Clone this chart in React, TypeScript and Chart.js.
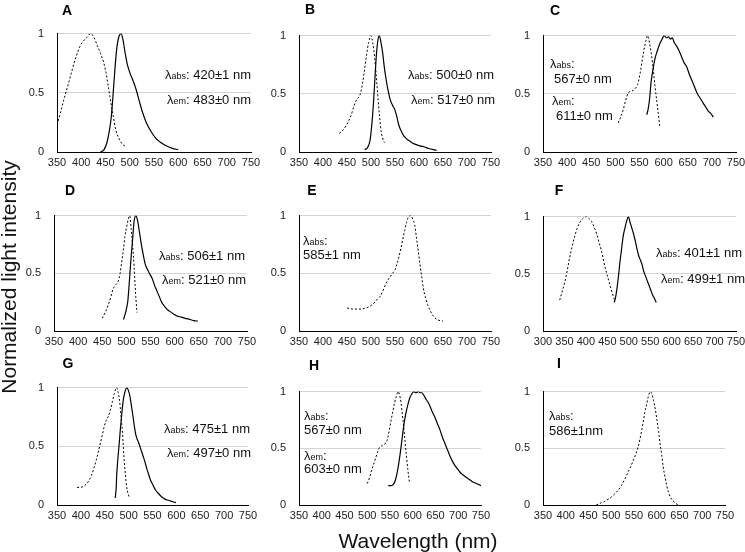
import React, { useEffect, useRef } from "react";
import { Chart, registerables } from "chart.js";

Chart.register(...registerables);

type P = [number, number][];

// ---- Data (wavelength nm, normalized intensity) ----
const absA: P = [[350,0.23],[357,0.33],[364,0.44],[373,0.57],[381,0.69],[389,0.8],[397,0.89],[405,0.94],[412,0.97],[419,1],[426,0.97],[433,0.9],[440,0.83],[446,0.76],[451,0.67],[456,0.55],[461,0.42],[466,0.3],[471,0.19],[478,0.11],[484,0.07],[490,0.05]];
const emA: P = [[440,0],[447,0.02],[453,0.08],[458,0.18],[462,0.3],[465,0.45],[468,0.62],[471,0.78],[474,0.9],[478,0.98],[482,1],[486,0.95],[490,0.85],[495,0.74],[501,0.66],[507,0.6],[513,0.53],[519,0.44],[526,0.34],[534,0.25],[543,0.18],[553,0.12],[564,0.08],[576,0.05],[588,0.03],[600,0.02]];

const absB: P = [[434,0.16],[442,0.19],[450,0.24],[458,0.31],[465,0.4],[470,0.45],[477,0.49],[482,0.58],[487,0.72],[491,0.84],[495,0.94],[500,1],[504,0.93],[508,0.8],[512,0.6],[515,0.44],[518,0.3],[521,0.18],[525,0.11],[528,0.08]];
const emB: P = [[487,0.02],[493,0.04],[498,0.1],[502,0.25],[505,0.41],[508,0.62],[511,0.82],[514,0.95],[517,1],[520,0.96],[524,0.86],[528,0.72],[532,0.61],[536,0.52],[540,0.45],[545,0.4],[550,0.36],[554,0.3],[558,0.23],[563,0.18],[568,0.14],[575,0.11],[582,0.09],[590,0.07],[600,0.055],[610,0.045],[620,0.03],[630,0.02],[637,0.015]];

const absC: P = [[506,0.25],[511,0.3],[516,0.36],[521,0.44],[527,0.51],[532,0.52],[537,0.53],[542,0.55],[546,0.58],[551,0.67],[555,0.77],[559,0.87],[563,0.95],[567,1],[571,0.93],[575,0.83],[579,0.69],[582,0.57],[586,0.43],[589,0.33],[592,0.22]];
const emC: P = [[565,0.32],[568,0.37],[571,0.46],[574,0.6],[578,0.71],[582,0.8],[587,0.87],[592,0.93],[597,0.97],[601,1],[606,0.98],[610,0.99],[614,0.97],[618,0.98],[622,0.94],[627,0.91],[632,0.87],[637,0.82],[642,0.77],[648,0.73],[653,0.67],[658,0.62],[664,0.56],[670,0.5],[676,0.46],[682,0.42],[688,0.38],[693,0.35],[698,0.33],[703,0.3]];

const absD: P = [[450,0.11],[456,0.16],[462,0.22],[468,0.3],[473,0.37],[478,0.4],[483,0.43],[487,0.5],[490,0.59],[494,0.71],[497,0.82],[501,0.91],[504,0.97],[507,1],[510,0.88],[513,0.74],[516,0.56],[518,0.4],[520,0.27],[522,0.16]];
const emD: P = [[494,0.1],[497,0.14],[500,0.19],[503,0.26],[505,0.36],[507,0.48],[510,0.65],[513,0.8],[516,0.95],[520,1],[523,0.96],[527,0.86],[531,0.75],[535,0.66],[539,0.58],[544,0.53],[549,0.49],[554,0.45],[558,0.4],[563,0.35],[568,0.3],[573,0.25],[578,0.22],[584,0.19],[590,0.17],[597,0.15],[605,0.13],[614,0.12],[622,0.11],[632,0.1],[640,0.09],[648,0.085]];

const absE: P = [[450,0.2],[463,0.19],[477,0.19],[490,0.2],[500,0.22],[508,0.25],[514,0.28],[519,0.3],[524,0.34],[529,0.39],[535,0.44],[540,0.47],[545,0.5],[550,0.53],[554,0.58],[558,0.64],[562,0.71],[566,0.79],[570,0.87],[574,0.94],[578,0.99],[583,1],[587,0.97],[591,0.92],[595,0.8],[599,0.68],[602,0.58],[606,0.46],[609,0.37],[613,0.3],[618,0.23],[624,0.17],[630,0.13],[637,0.1],[644,0.09],[650,0.085]];

const absF: P = [[339,0.27],[345,0.35],[351,0.43],[357,0.54],[362,0.64],[368,0.74],[374,0.83],[380,0.9],[386,0.95],[392,0.98],[401,1],[408,0.98],[413,0.96],[419,0.91],[425,0.85],[431,0.77],[437,0.69],[442,0.6],[448,0.51],[454,0.43],[460,0.35],[465,0.29],[469,0.26]];
const emF: P = [[466,0.25],[469,0.29],[472,0.36],[476,0.48],[479,0.59],[483,0.71],[487,0.83],[491,0.9],[495,0.96],[499,1],[503,0.95],[507,0.9],[511,0.85],[515,0.79],[519,0.72],[523,0.66],[527,0.62],[531,0.58],[535,0.52],[539,0.48],[543,0.44],[547,0.4],[551,0.36],[555,0.32],[559,0.29],[564,0.25]];

const absG: P = [[392,0.15],[399,0.15],[406,0.16],[412,0.18],[417,0.21],[422,0.25],[427,0.31],[432,0.38],[437,0.46],[441,0.53],[445,0.6],[449,0.67],[453,0.72],[458,0.76],[462,0.81],[466,0.88],[470,0.95],[475,1],[478,0.96],[481,0.89],[484,0.76],[487,0.62],[490,0.42],[493,0.27],[496,0.15],[501,0.07]];
const emG: P = [[472,0.06],[474,0.15],[475,0.25],[477,0.37],[480,0.51],[483,0.66],[486,0.79],[489,0.9],[492,0.96],[496,1],[500,0.97],[503,0.92],[506,0.84],[509,0.76],[512,0.67],[515,0.6],[518,0.56],[522,0.52],[526,0.47],[530,0.42],[534,0.37],[538,0.31],[542,0.26],[546,0.21],[551,0.17],[556,0.13],[562,0.1],[569,0.07],[576,0.05],[583,0.04],[591,0.03],[599,0.02]];

const absH: P = [[500,0.19],[505,0.24],[510,0.31],[515,0.37],[519,0.42],[523,0.47],[527,0.51],[531,0.52],[535,0.53],[539,0.54],[543,0.56],[546,0.61],[549,0.67],[552,0.74],[556,0.82],[560,0.9],[564,0.96],[568,1],[571,0.97],[574,0.91],[577,0.8],[580,0.7],[583,0.56],[586,0.44],[589,0.32],[593,0.19]];
const emH: P = [[546,0.17],[551,0.17],[557,0.18],[561,0.21],[565,0.27],[569,0.36],[573,0.47],[577,0.6],[581,0.72],[585,0.81],[589,0.88],[594,0.95],[598,0.98],[602,1],[607,0.99],[612,1],[616,0.99],[620,0.99],[624,0.97],[628,0.94],[633,0.91],[638,0.87],[643,0.82],[649,0.77],[654,0.72],[660,0.66],[665,0.6],[671,0.54],[677,0.48],[682,0.43],[688,0.38],[694,0.34],[700,0.31],[706,0.28],[712,0.26],[719,0.24],[726,0.22],[733,0.2],[740,0.19],[745,0.18],[750,0.17]];

const absI: P = [[467,0],[473,0.01],[478,0.02],[485,0.03],[493,0.05],[500,0.07],[508,0.1],[515,0.13],[522,0.17],[530,0.23],[537,0.29],[543,0.34],[548,0.39],[554,0.45],[559,0.51],[563,0.58],[567,0.66],[571,0.75],[574,0.82],[578,0.89],[581,0.95],[586,1],[590,0.97],[593,0.92],[597,0.84],[600,0.76],[604,0.65],[607,0.55],[611,0.44],[614,0.34],[618,0.25],[622,0.17],[626,0.11],[630,0.07],[635,0.04],[640,0.02],[647,0]];

// Tick settings
const yStep = 0.5;
const xStep = 50;

const FONT = '"Liberation Sans", Arial, Helvetica, sans-serif';

type Note = { sub?: string; text: string; x: number; y: number };
type PanelCfg = {
  id: string; L: number; R: number; T: number; B: number;
  xmin: number; xmax: number; abs?: P; em?: P;
  tx: number; ty: number; notes: Note[];
};

const panels: PanelCfg[] = [
  { id: "A", L: 57, R: 251, T: 22, B: 152, xmin: 350, xmax: 750, abs: absA, em: emA, tx: 67, ty: 10,
    notes: [{ sub: "abs", text: ": 420±1 nm", x: 165, y: 75 }, { sub: "em", text: ": 483±0 nm", x: 167, y: 100 }] },
  { id: "B", L: 299, R: 491, T: 24, B: 152, xmin: 350, xmax: 750, abs: absB, em: emB, tx: 310, ty: 9,
    notes: [{ sub: "abs", text: ": 500±0 nm", x: 408, y: 75 }, { sub: "em", text: ": 517±0 nm", x: 411, y: 100 }] },
  { id: "C", L: 543, R: 736, T: 24, B: 152, xmin: 350, xmax: 750, abs: absC, em: emC, tx: 555, ty: 10,
    notes: [{ sub: "abs", text: ":", x: 550, y: 64 }, { text: "567±0 nm", x: 554, y: 79 },
            { sub: "em", text: ":", x: 552, y: 101 }, { text: "611±0 nm", x: 556, y: 116 }] },
  { id: "D", L: 54, R: 247, T: 204, B: 331, xmin: 350, xmax: 750, abs: absD, em: emD, tx: 70, ty: 190,
    notes: [{ sub: "abs", text: ": 506±1 nm", x: 159, y: 256 }, { sub: "em", text: ": 521±0 nm", x: 162, y: 280 }] },
  { id: "E", L: 299, R: 491, T: 204, B: 331, xmin: 350, xmax: 750, abs: absE, tx: 312, ty: 190,
    notes: [{ sub: "abs", text: ":", x: 303, y: 241 }, { text: "585±1 nm", x: 303, y: 255 }] },
  { id: "F", L: 543, R: 736, T: 205, B: 331, xmin: 300, xmax: 750, abs: absF, em: emF, tx: 559, ty: 190,
    notes: [{ sub: "abs", text: ": 401±1 nm", x: 656, y: 253 }, { sub: "em", text: ": 499±1 nm", x: 661, y: 279 }] },
  { id: "G", L: 57, R: 248, T: 376, B: 505, xmin: 350, xmax: 750, abs: absG, em: emG, tx: 68, ty: 363,
    notes: [{ sub: "abs", text: ": 475±1 nm", x: 164, y: 429 }, { sub: "em", text: ": 497±0 nm", x: 167, y: 453 }] },
  { id: "H", L: 299, R: 481, T: 380, B: 505, xmin: 350, xmax: 750, abs: absH, em: emH, tx: 314, ty: 365,
    notes: [{ sub: "abs", text: ":", x: 304, y: 416 }, { text: "567±0 nm", x: 304, y: 430 },
            { sub: "em", text: ":", x: 304, y: 456 }, { text: "603±0 nm", x: 304, y: 469 }] },
  { id: "I", L: 543, R: 725, T: 380, B: 505, xmin: 350, xmax: 750, abs: absI, tx: 559, ty: 363,
    notes: [{ sub: "abs", text: ":", x: 549, y: 416 }, { text: "586±1nm", x: 549, y: 431 }] },
];

const AY = 45; // y-axis box width
const AX = 25; // x-axis box height
const PR = 15; // right padding
const PT = 8;  // top padding

function Panel({ cfg }: { cfg: PanelCfg }) {
  const ref = useRef<HTMLCanvasElement>(null);
  const w = cfg.R - cfg.L + AY + PR;
  const h = cfg.B - cfg.T + PT + AX;

  useEffect(() => {
    if (!ref.current) return;
    const datasets: any[] = [];
    if (cfg.abs) {
      datasets.push({
        data: cfg.abs.map(([x, y]) => ({ x, y })),
        borderColor: "#000", borderWidth: 1, borderDash: [2, 2],
        pointRadius: 0, cubicInterpolationMode: "monotone", fill: false,
      });
    }
    if (cfg.em) {
      datasets.push({
        data: cfg.em.map(([x, y]) => ({ x, y })),
        borderColor: "#000", borderWidth: 1.2,
        pointRadius: 0, cubicInterpolationMode: "monotone", fill: false,
      });
    }
    const chart = new Chart(ref.current, {
      type: "line",
      data: { datasets },
      options: {
        animation: false,
        responsive: false,
        maintainAspectRatio: false,
        layout: { padding: { left: 0, right: PR, top: PT, bottom: 0 } },
        plugins: { legend: { display: false }, tooltip: { enabled: false }, title: { display: false } },
        scales: {
          x: {
            type: "linear",
            min: cfg.xmin, max: cfg.xmax,
            ticks: {
              stepSize: xStep, autoSkip: false, maxRotation: 0, minRotation: 0,
              padding: 4, color: "#222", font: { size: 11, family: FONT },
            },
            grid: { display: false, drawTicks: false },
            border: { display: true, color: "#000", width: 1 },
            afterFit: (s: any) => { s.height = AX; },
          },
          y: {
            type: "linear",
            min: 0, max: 1,
            ticks: {
              stepSize: yStep, padding: 13, color: "#222", font: { size: 11, family: FONT },
              callback: (v: any) => String(Number(v)),
            },
            grid: {
              display: true,
              drawTicks: false,
              color: (ctx: any) => (ctx.index === 0 ? "rgba(0,0,0,0)" : "#d4d4d4"),
              lineWidth: 1,
            },
            border: { display: true, color: "#000", width: 1 },
            afterFit: (s: any) => { s.width = AY; },
          },
        },
      },
    });
    return () => chart.destroy();
  }, []);

  return (
    <>
      <canvas
        ref={ref}
        width={w}
        height={h}
        style={{ position: "absolute", left: cfg.L - AY, top: cfg.T - PT, width: w, height: h }}
      />
      <div
        style={{
          position: "absolute", left: cfg.tx - 10, top: cfg.ty - 9, width: 20, height: 18,
          textAlign: "center", lineHeight: "18px", fontSize: 14, fontWeight: "bold",
          fontFamily: FONT, color: "#000",
        }}
      >
        {cfg.id}
      </div>
      {cfg.notes.map((n, i) => (
        <div
          key={i}
          style={{
            position: "absolute", left: n.x, top: n.y - 8, height: 16, lineHeight: "16px",
            fontSize: 13, fontFamily: FONT, color: "#111", whiteSpace: "nowrap",
          }}
        >
          {n.sub ? (
            <>
              λ<span style={{ fontSize: 9 }}>{n.sub}</span>
            </>
          ) : null}
          {n.text}
        </div>
      ))}
    </>
  );
}

export default function App() {
  return (
    <div
      style={{
        position: "fixed", left: 0, top: 0, width: 745, height: 552,
        overflow: "hidden", background: "#fff",
      }}
    >
      {panels.map((p) => (
        <Panel key={p.id} cfg={p} />
      ))}
      <div style={{ position: "absolute", left: 9, top: 277, width: 0, height: 0 }}>
        <div
          style={{
            position: "absolute", left: -160, top: -13, width: 320, height: 26,
            lineHeight: "26px", textAlign: "center", fontSize: 21, fontFamily: FONT,
            color: "#111", transform: "rotate(-90deg)", whiteSpace: "nowrap",
          }}
        >
          Normalized light intensity
        </div>
      </div>
      <div
        style={{
          position: "absolute", left: 418 - 120, top: 541 - 13, width: 240, height: 26,
          lineHeight: "26px", textAlign: "center", fontSize: 21, fontFamily: FONT, color: "#111",
        }}
      >
        Wavelength (nm)
      </div>
    </div>
  );
}
